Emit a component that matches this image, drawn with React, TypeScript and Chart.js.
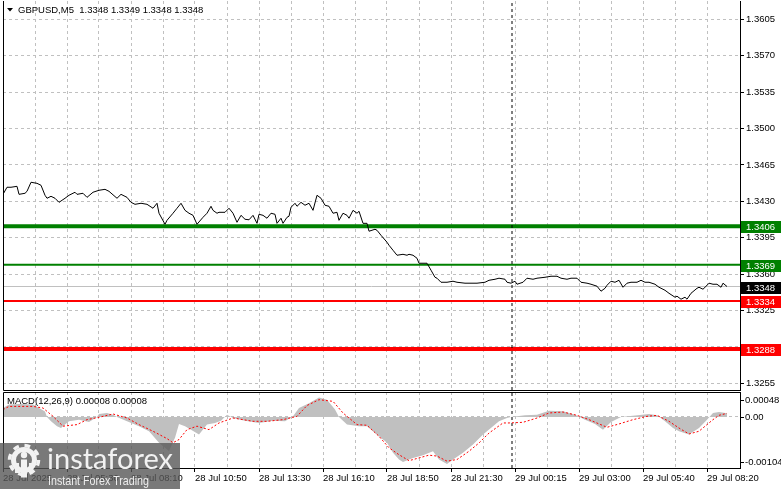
import React, { useEffect, useRef } from 'react';
import { Chart, registerables } from 'chart.js';

Chart.register(...registerables);

// ---------- DATA ----------
const timeLabels = [
  '28 Jul 2025', '28 Jul 05:30', '28 Jul 08:10', '28 Jul 10:50', '28 Jul 13:30', '28 Jul 16:10',
  '28 Jul 18:50', '28 Jul 21:30', '29 Jul 00:15', '29 Jul 03:00', '29 Jul 05:40', '29 Jul 08:20',
];

const priceBars = [
  0, 2, 4, 7, 8, 11, 12, 14, 17, 19, 21, 22, 24, 26, 28, 31, 33, 36, 37, 40, 42, 45, 48, 51, 53, 57, 59, 62, 64, 66,
  69, 72, 75, 77, 78, 81, 82, 85, 87, 89, 91, 93, 95, 97, 100, 102, 104, 105, 107, 108, 111, 113, 115, 117, 119, 121,
  123, 125, 127, 128, 130, 132, 134, 136, 137, 139, 140, 142, 143, 144, 146, 147, 149, 151, 153, 155, 157, 159, 161,
  163, 165, 167, 168, 170, 172, 173, 175, 177, 178, 180, 182, 183, 186, 187, 189, 192, 193, 195, 197, 200, 202, 203,
  205, 207, 208, 212, 214, 216, 217, 219, 222, 225, 227, 231, 234, 237, 241, 243, 246, 248, 251, 252, 254, 256, 257,
  260, 262, 265, 267, 271, 274, 277, 279, 282, 284, 287, 289, 292, 294, 297, 299, 301, 302, 304, 306, 308, 310, 312,
  314, 317, 319, 321, 323, 326, 328, 331, 333, 336, 337, 339, 341, 342, 344, 347, 348, 350, 352, 353, 355, 357, 359,
  360, 362,
];
const priceValues = [
  1.34367, 1.34435, 1.34435, 1.34444, 1.34367, 1.34377, 1.34396, 1.34483, 1.34473, 1.34454, 1.34358, 1.34329, 1.34348,
  1.34329, 1.3429, 1.34329, 1.34358, 1.34387, 1.34367, 1.34377, 1.34338, 1.34387, 1.34406, 1.34415, 1.34396, 1.34329,
  1.34367, 1.34338, 1.3429, 1.34271, 1.34281, 1.34271, 1.34233, 1.34281, 1.34185, 1.34079, 1.34117, 1.34185, 1.34233,
  1.34281, 1.34213, 1.34185, 1.34165, 1.34079, 1.34146, 1.34185, 1.34252, 1.34213, 1.34185, 1.34194, 1.34194, 1.34233,
  1.34185, 1.34098, 1.34165, 1.34127, 1.34122, 1.34165, 1.34088, 1.34175, 1.34165, 1.34137, 1.34185, 1.34175, 1.34088,
  1.34137, 1.34088, 1.34146, 1.34156, 1.34242, 1.34281, 1.34252, 1.3429, 1.34262, 1.34281, 1.34213, 1.34358, 1.34329,
  1.34262, 1.34252, 1.34185, 1.34194, 1.34117, 1.34185, 1.34165, 1.34137, 1.34213, 1.34185, 1.34204, 1.34088, 1.34088,
  1.34012, 1.34031, 1.34021, 1.33973, 1.33906, 1.33877, 1.33829, 1.33781, 1.3379, 1.33781, 1.3379, 1.33781, 1.33752,
  1.33704, 1.33704, 1.33637, 1.33569, 1.3356, 1.33521, 1.33521, 1.33531, 1.33521, 1.33512, 1.33512, 1.33512, 1.33521,
  1.3354, 1.3355, 1.3356, 1.3355, 1.33521, 1.33512, 1.33531, 1.33502, 1.33521, 1.3356, 1.3355, 1.3356, 1.33569, 1.33579,
  1.33579, 1.3356, 1.3355, 1.3356, 1.3356, 1.33521, 1.33512, 1.33502, 1.33483, 1.33435, 1.33463, 1.33492, 1.33531,
  1.33521, 1.3354, 1.33473, 1.33512, 1.33521, 1.33521, 1.3354, 1.33521, 1.33521, 1.33502, 1.33473, 1.33444, 1.33415,
  1.33377, 1.33387, 1.33358, 1.33377, 1.33358, 1.33415, 1.33463, 1.33473, 1.33454, 1.33492, 1.33512, 1.33502, 1.33502,
  1.33473, 1.33512, 1.3348,
];

const macdBars = [
  0, 3, 8, 15, 18, 21, 22, 24, 27, 29, 31, 33, 38, 43, 47, 48, 52, 55, 57, 62, 68, 73, 78, 81, 83, 86, 88, 91, 94, 98,
  102, 106, 109, 112, 115, 121, 128, 135, 141, 145, 148, 153, 158, 162, 166, 168, 172, 178, 182, 186, 192, 195, 198,
  200, 205, 210, 215, 218, 222, 225, 230, 235, 240, 245, 248, 252, 254, 261, 267, 273, 280, 286, 291, 296, 300, 304,
  309, 316, 323, 327, 331, 335, 338, 343, 348, 352, 355, 358, 362,
];
const macdValues = [
  0.000195, 0.00027, 0.00028, 0.00027, 0.000195, 0.00012, 0, -0.000094, -0.0002, -0.00024, -0.000166, -0.000094,
  -0.000058, -0.000108, 0, 0.000065, 0.000087, 0.00005, 0, -0.000094, -0.0002, -0.00031, -0.00056, -0.00067, -0.00074,
  -0.00045, -0.00015, -0.0002, -0.000275, -0.00038, -0.000166, -0.00013, -0.00008, 0.00005, -0.000022, -0.00008,
  -0.00013, -0.00008, -0.000094, 0.000014, 0.000195, 0.0003, 0.000426, 0.000376, 0.00016, 0, -0.000166, -0.0002,
  -0.0002, -0.00035, -0.00056, -0.00078, -0.000925, -0.000976, -0.00089, -0.00083, -0.000745, -0.000925, -0.00102,
  -0.000925, -0.00078, -0.0006, -0.00038, -0.0002, -0.000094, -0.000022, 0, 0.000036, 0.00005, 0.000137, 0.000123,
  0.00005, -0.000058, -0.00015, -0.000275, -0.000108, 0, 0.00003, 0.000065, 0.000036, -0.000094, -0.00024, -0.00031,
  -0.00038, -0.00024, -0.000058, 0.000087, 0.000108, 0.00008,
];

const signalBars = [
  0, 3, 15, 20, 25, 30, 37, 42, 48, 55, 62, 68, 75, 82, 85, 88, 92, 97, 103, 108, 115, 125, 132, 140, 147, 152, 158,
  165, 170, 177, 182, 188, 193, 198, 203, 208, 213, 217, 222, 227, 233, 238, 243, 250, 253, 260, 267, 273, 280, 287,
  293, 302, 308, 315, 322, 327, 333, 338, 343, 348, 352, 355, 358, 362,
];
const signalValues = [
  0.00016, 0.00023, 0.00023, 0.000195, 0.000014, -0.0002, -0.000166, -0.000058, -0.000007, 0.000065, -0.000022,
  -0.000166, -0.00031, -0.00047, -0.00056, -0.00049, -0.000275, -0.0002, -0.000275, -0.00013, -0.000022, -0.000094,
  -0.000094, -0.000058, 0.000014, 0.00025, 0.000376, 0.00034, 0.000087, -0.000166, -0.00018, -0.00042, -0.00067,
  -0.00082, -0.00095, -0.00089, -0.00083, -0.00085, -0.00096, -0.000925, -0.000745, -0.000565, -0.00035, -0.00013,
  -0.00013, -0.000116, -0.000022, 0.000087, 0.000108, 0.000036, -0.000058, -0.000224, -0.000152, -0.000058, 0.000014,
  0.000036, -0.000094, -0.00024, -0.00037, -0.00031, -0.000166, -0.000058, 0.000036, 0.00008,
];

const priceTicks = [1.3255, 1.329, 1.3325, 1.336, 1.3395, 1.343, 1.3465, 1.35, 1.3535, 1.357, 1.3605];
const hiddenPriceTick = 1.329;
const levelValues = [1.3406, 1.3369, 1.3348, 1.3334, 1.3288];
const macdTickValues = [0.00048, 0, -0.00104];
const macdTickLabels = ['0.00048', '0.00', '-0.00104'];
const titleText = 'GBPUSD,M5  1.3348 1.3349 1.3348 1.3348';
const macdTitle = 'MACD(12,26,9) 0.00008 0.00008';
const separatorBar = 254.5;

// ---------- STYLE / AXIS RANGE ----------
const BAR_MAX = 368.5;
const PRICE_MIN = 1.324845;
const PRICE_MAX = 1.36227;
const MACD_MIN = -0.001109;
const MACD_MAX = 0.000543;
const GRID = '#c0c0c0';
const FONT = "'Liberation Sans', Arial, sans-serif";
const FSIZE = 9.5;
const levelLineColors = ['#008000', '#008000', '#c0c0c0', '#ff0000', '#ff0000'];
const levelLineWidths = [4, 2, 1, 2, 4];
const levelBoxColors = ['#008000', '#008000', '#000000', '#ff0000', '#ff0000'];

const gridBars: number[] = [];
for (let b = 16; b <= 352; b += 16) gridBars.push(b);
const axisBars: number[] = [];
for (let b = 0; b <= 352; b += 16) axisBars.push(b);

export default function App() {
  const mainRef = useRef<HTMLCanvasElement | null>(null);
  const macdRef = useRef<HTMLCanvasElement | null>(null);

  useEffect(() => {
    document.body.style.margin = '0';
    const mainCanvas = mainRef.current!;
    const macdCanvas = macdRef.current!;

    const mainPlugin = {
      id: 'mainDeco',
      afterDraw(chart: any) {
        const { ctx, chartArea: a, scales } = chart;
        ctx.save();
        ctx.strokeStyle = '#000';
        ctx.lineWidth = 1;
        ctx.beginPath();
        ctx.moveTo(Math.round(a.left) + 0.5, a.top);
        ctx.lineTo(Math.round(a.left) + 0.5, Math.round(a.bottom) + 0.5);
        ctx.lineTo(Math.round(a.right) + 0.5, Math.round(a.bottom) + 0.5);
        ctx.stroke();
        // level boxes
        ctx.font = `${FSIZE}px ${FONT}`;
        ctx.textBaseline = 'middle';
        ctx.textAlign = 'left';
        levelValues.forEach((v, i) => {
          const y = Math.round(scales.y.getPixelForValue(v));
          ctx.fillStyle = levelBoxColors[i];
          ctx.fillRect(Math.round(a.right) + 1, y - 5, 42, 12);
          ctx.fillStyle = '#fff';
          ctx.fillText(v.toFixed(4), Math.round(a.right) + 6, y + 1);
        });
        // title
        ctx.fillStyle = '#000';
        ctx.beginPath();
        ctx.moveTo(7, 8);
        ctx.lineTo(13, 8);
        ctx.lineTo(10, 11.5);
        ctx.closePath();
        ctx.fill();
        ctx.fillText(titleText, 18, 10);
        ctx.restore();
      },
    };

    const main = new Chart(mainCanvas, {
      type: 'line',
      data: {
        datasets: [
          {
            data: priceBars.map((b, i) => ({ x: b, y: priceValues[i] })),
            borderColor: '#000',
            borderWidth: 1,
            pointRadius: 0,
            tension: 0,
          },
          {
            data: [{ x: separatorBar, y: PRICE_MIN }, { x: separatorBar, y: PRICE_MAX }],
            borderColor: '#000',
            borderWidth: 1,
            borderDash: [3, 3],
            pointRadius: 0,
          },
          ...levelValues.map((v, i) => ({
            data: [{ x: 0, y: v }, { x: BAR_MAX, y: v }],
            borderColor: levelLineColors[i],
            borderWidth: levelLineWidths[i],
            pointRadius: 0,
          })),
        ],
      },
      options: {
        responsive: false,
        animation: false,
        devicePixelRatio: 1,
        events: [],
        layout: { padding: { left: 3, top: 1, right: 0, bottom: 2 } },
        plugins: { legend: { display: false }, tooltip: { enabled: false } },
        scales: {
          x: {
            type: 'linear',
            min: 0,
            max: BAR_MAX,
            position: 'bottom',
            afterBuildTicks: (s: any) => { s.ticks = gridBars.map((v) => ({ value: v })); },
            ticks: { display: false },
            grid: { color: GRID, drawTicks: false, lineWidth: 1 },
            border: { display: false, dash: [3, 3] },
            afterFit: (s: any) => { s.height = 0; s.paddingLeft = 0; s.paddingRight = 0; },
          },
          y: {
            type: 'linear',
            position: 'right',
            min: PRICE_MIN,
            max: PRICE_MAX,
            afterBuildTicks: (s: any) => { s.ticks = priceTicks.map((v) => ({ value: v })); },
            ticks: {
              autoSkip: false,
              callback: (v: any) => (Math.abs(Number(v) - hiddenPriceTick) < 1e-7 ? '' : Number(v).toFixed(4)),
              font: { family: FONT, size: FSIZE },
              color: '#000',
              padding: 2,
            },
            grid: { color: GRID, tickColor: '#000', tickLength: 4, tickBorderDash: [] },
            border: { display: true, color: '#000', width: 1, dash: [3, 3] },
            afterFit: (s: any) => { s.width = 41; s.paddingTop = 0; s.paddingBottom = 0; },
          },
        },
      },
      plugins: [mainPlugin],
    } as any);

    const macdPlugin = {
      id: 'macdDeco',
      afterDraw(chart: any) {
        const { ctx, chartArea: a, scales } = chart;
        ctx.save();
        ctx.strokeStyle = '#000';
        ctx.lineWidth = 1;
        ctx.beginPath();
        ctx.moveTo(Math.round(a.left) + 0.5, Math.round(a.bottom) + 0.5);
        ctx.lineTo(Math.round(a.left) + 0.5, Math.round(a.top) + 0.5);
        ctx.lineTo(Math.round(a.right) + 0.5, Math.round(a.top) + 0.5);
        ctx.stroke();
        ctx.font = `${FSIZE}px ${FONT}`;
        ctx.textBaseline = 'middle';
        ctx.fillStyle = '#000';
        macdTickValues.forEach((v, i) => {
          let y = Math.round(scales.y.getPixelForValue(v));
          y = Math.max(a.top + 8, Math.min(a.bottom - 6, y));
          ctx.beginPath();
          ctx.moveTo(Math.round(a.right), y + 0.5);
          ctx.lineTo(Math.round(a.right) + 4, y + 0.5);
          ctx.stroke();
          ctx.fillText(macdTickLabels[i], Math.round(a.right) + 5, y + 0.5);
        });
        ctx.fillText(macdTitle, 7, a.top + 9);
        ctx.restore();
      },
    };

    const macd = new Chart(macdCanvas, {
      type: 'line',
      data: {
        datasets: [
          {
            data: signalBars.map((b, i) => ({ x: b, y: signalValues[i] })),
            borderColor: '#ff0000',
            borderWidth: 1,
            borderDash: [2, 2],
            pointRadius: 0,
            tension: 0,
          },
          {
            data: [{ x: separatorBar, y: MACD_MIN }, { x: separatorBar, y: MACD_MAX }],
            borderColor: '#000',
            borderWidth: 1,
            borderDash: [3, 3],
            pointRadius: 0,
          },
          {
            data: macdBars.map((b, i) => ({ x: b, y: macdValues[i] })),
            borderColor: 'rgba(0,0,0,0)',
            borderWidth: 0,
            backgroundColor: '#c0c0c0',
            fill: 'origin',
            pointRadius: 0,
            tension: 0,
          },
        ],
      },
      options: {
        responsive: false,
        animation: false,
        devicePixelRatio: 1,
        events: [],
        layout: { padding: { left: 3, top: 4, right: 0, bottom: 0 } },
        plugins: { legend: { display: false }, tooltip: { enabled: false } },
        scales: {
          x: {
            type: 'linear',
            min: 0,
            max: BAR_MAX,
            position: 'bottom',
            afterBuildTicks: (s: any) => { s.ticks = axisBars.map((v) => ({ value: v })); },
            ticks: {
              autoSkip: false,
              maxRotation: 0,
              minRotation: 0,
              align: 'start',
              padding: 1,
              font: { family: FONT, size: FSIZE },
              color: '#000',
              callback: (v: any) => (Number(v) % 32 === 0 ? timeLabels[Number(v) / 32] : ''),
            },
            grid: {
              color: (c: any) => (c.tick && c.tick.value === 0 ? 'rgba(0,0,0,0)' : GRID),
              tickColor: (c: any) => (c.tick && c.tick.value % 32 === 0 ? '#000' : 'rgba(0,0,0,0)'),
              tickLength: 4,
              tickBorderDash: [],
            },
            border: { display: true, color: '#000', width: 1, dash: [3, 3] },
            afterFit: (s: any) => { s.height = 21; s.paddingLeft = 0; s.paddingRight = 0; },
          },
          y: {
            type: 'linear',
            position: 'right',
            min: MACD_MIN,
            max: MACD_MAX,
            afterBuildTicks: (s: any) => { s.ticks = [{ value: 0 }]; },
            ticks: { display: false },
            grid: { color: GRID, drawTicks: false },
            border: { display: true, color: '#000', width: 1, dash: [3, 3] },
            afterFit: (s: any) => { s.width = 41; s.paddingTop = 0; s.paddingBottom = 0; },
          },
        },
      },
      plugins: [macdPlugin],
    } as any);

    return () => {
      main.destroy();
      macd.destroy();
    };
  }, []);

  return (
    <div style={{ position: 'fixed', left: 0, top: 0, width: 781, height: 489, background: '#fff', overflow: 'hidden' }}>
      <canvas ref={mainRef} width={781} height={392} style={{ position: 'absolute', left: 0, top: 0 }} />
      <canvas ref={macdRef} width={781} height={101} style={{ position: 'absolute', left: 0, top: 388 }} />
      <svg width={180} height={46} style={{ position: 'absolute', left: 0, top: 443 }}>
        <rect x={0} y={0} width={180} height={46} fill="rgba(88,88,88,0.8)" />
        <circle cx={24} cy={17} r={14.5} fill="none" stroke="#f2f2f2" strokeWidth={3.5} strokeDasharray="5.7 5.7" />
        <circle cx={24} cy={17} r={10.5} fill="none" stroke="#f2f2f2" strokeWidth={5} />
        <circle cx={24} cy={12} r={3.2} fill="#f2f2f2" />
        <rect x={21} y={16.5} width={6} height={18} fill="#f2f2f2" />
        <rect x={15} y={20} width={4} height={10} fill="#f2f2f2" />
        <rect x={29} y={20} width={4} height={10} fill="#f2f2f2" />
        <text x={47} y={26} fontFamily="Lato, 'Open Sans', sans-serif" fontWeight={400} fontSize={29}
          fill="#f2f2f2" textLength={126} lengthAdjust="spacingAndGlyphs">instaforex</text>
        <text x={48} y={42} fontFamily="'Liberation Sans', Arial, sans-serif" fontSize={13}
          fill="#eeeeee" textLength={101} lengthAdjust="spacingAndGlyphs">Instant Forex Trading</text>
      </svg>
    </div>
  );
}
